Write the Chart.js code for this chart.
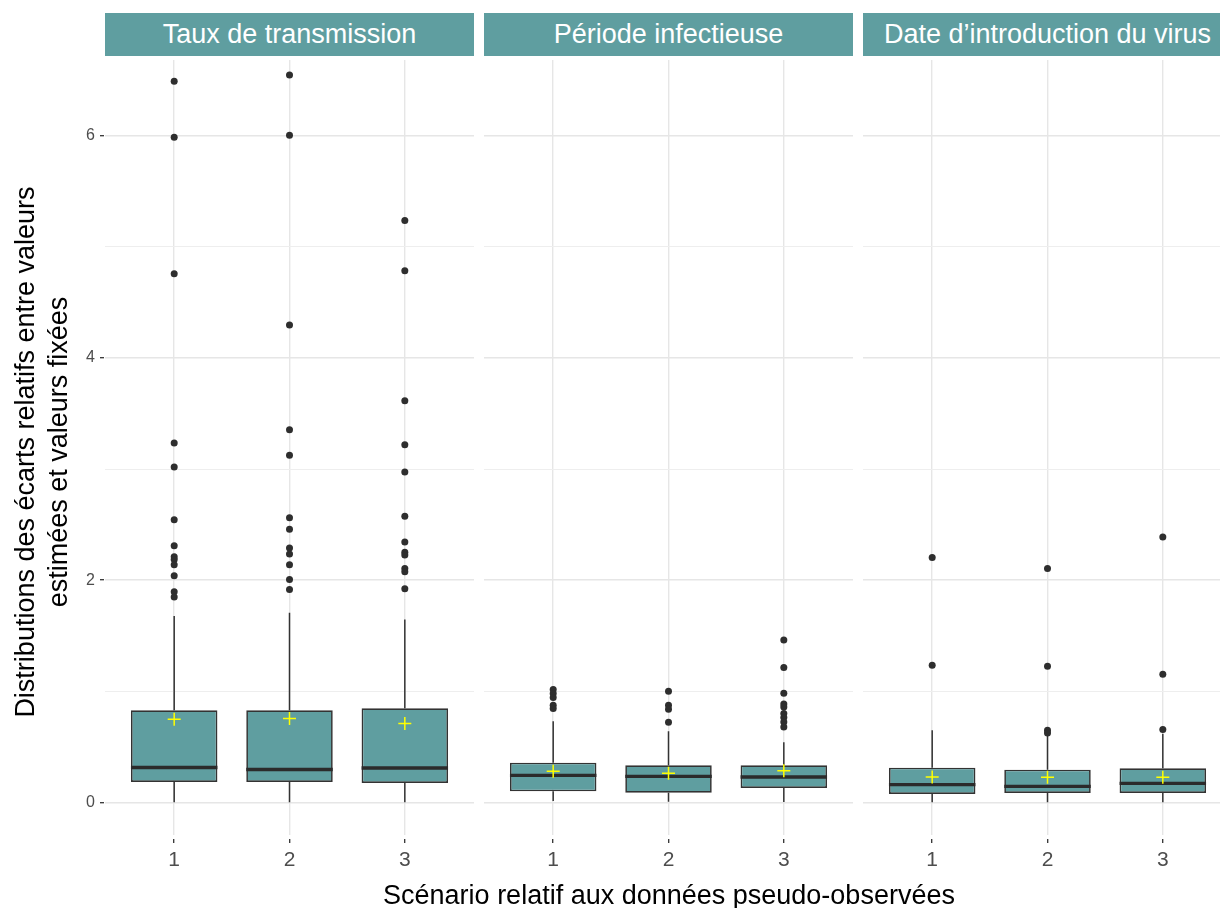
<!DOCTYPE html>
<html><head><meta charset="utf-8">
<script src="https://cdn.jsdelivr.net/npm/chart.js@4/dist/chart.umd.min.js"></script>
<style>
html,body{margin:0;padding:0;background:#fff;width:1220px;height:908px;overflow:hidden;position:relative;font-family:"Liberation Sans",Arial,sans-serif;}
.strip{position:absolute;top:13px;height:43px;background:#5F9EA0;color:#fff;font-size:27px;line-height:43px;text-align:center;white-space:nowrap;overflow:hidden;}
canvas{position:absolute;top:60px;}
#xtitle{position:absolute;left:269px;width:800px;top:880px;font-size:27px;line-height:30px;text-align:center;color:#000;white-space:nowrap;}
#ytitle{position:absolute;left:-308px;top:419px;width:700px;height:66px;font-size:27px;line-height:33px;text-align:center;color:#000;transform:rotate(-90deg);transform-origin:50% 50%;white-space:nowrap;}
</style></head>
<body>
<div class="strip" id="s0" style="left:105px;width:369px;"></div>
<div class="strip" id="s1" style="left:484px;width:369px;"></div>
<div class="strip" id="s2" style="left:863px;width:369px;"></div>
<canvas id="c0" width="424" height="835" style="left:50px;"></canvas>
<canvas id="c1" width="369" height="835" style="left:484px;"></canvas>
<canvas id="c2" width="369" height="835" style="left:863px;"></canvas>
<div id="xtitle">Scénario relatif aux données pseudo-observées</div>
<div id="ytitle">Distributions des écarts relatifs entre valeurs<br>estimées et valeurs fixées</div>
<script>
// ---------- data ----------
const panels = ['Taux de transmission', 'Période infectieuse', 'Date d\u2019introduction du virus'];
const scenarios = ['1', '2', '3'];
const yTickLabels = [0, 2, 4, 6];
const yMinorTicks = [1, 3, 5];

// Taux de transmission
const p1_q1 = [0.183, 0.183, 0.174];
const p1_median = [0.313, 0.295, 0.309];
const p1_q3 = [0.829, 0.829, 0.847];
const p1_low = [0, 0, 0];
const p1_high = [1.678, 1.706, 1.646];
const p1_mean = [0.748, 0.754, 0.709];
const p1_out_s1 = [6.49, 5.985, 4.757, 3.234, 3.018, 2.543, 2.309, 2.21, 2.185, 2.138, 2.039, 1.895, 1.847];
const p1_out_s2 = [6.547, 6.003, 4.297, 3.354, 3.123, 2.561, 2.457, 2.288, 2.234, 2.138, 2.006, 1.916];
const p1_out_s3 = [5.236, 4.784, 3.615, 3.219, 2.973, 2.574, 2.342, 2.25, 2.225, 2.105, 2.075, 1.922];

// Période infectieuse
const p2_q1 = [0.099, 0.087, 0.129];
const p2_median = [0.243, 0.234, 0.228];
const p2_q3 = [0.357, 0.333, 0.333];
const p2_low = [0.012, 0.006, 0.003];
const p2_high = [0.730, 0.640, 0.540];
const p2_mean = [0.279, 0.261, 0.285];
const p2_out_s1 = [1.015, 0.979, 0.943, 0.874, 0.844];
const p2_out_s2 = [1.0, 0.874, 0.838, 0.72];
const p2_out_s3 = [1.462, 1.213, 0.982, 0.886, 0.859, 0.799, 0.763, 0.724, 0.679];

// Date d'introduction du virus
const p3_q1 = [0.075, 0.084, 0.084];
const p3_median = [0.159, 0.144, 0.171];
const p3_q3 = [0.312, 0.294, 0.306];
const p3_low = [0, 0, 0];
const p3_high = [0.649, 0.605, 0.617];
const p3_mean = [0.227, 0.225, 0.225];
const p3_out_s1 = [2.204, 1.234];
const p3_out_s2 = [2.105, 1.225, 0.648, 0.625];
const p3_out_s3 = [2.387, 1.153, 0.655];

// ---------- build ----------
const panelData = [
  {q1:p1_q1, med:p1_median, q3:p1_q3, lo:p1_low, hi:p1_high, mean:p1_mean, out:[p1_out_s1,p1_out_s2,p1_out_s3]},
  {q1:p2_q1, med:p2_median, q3:p2_q3, lo:p2_low, hi:p2_high, mean:p2_mean, out:[p2_out_s1,p2_out_s2,p2_out_s3]},
  {q1:p3_q1, med:p3_median, q3:p3_q3, lo:p3_low, hi:p3_high, mean:p3_mean, out:[p3_out_s1,p3_out_s2,p3_out_s3]}
];

const FONT = '"Liberation Sans", Arial, sans-serif';
const Y_MIN = -0.294, Y_MAX = 6.681;
const HALF_BOX = 0.375;
const FILL = '#5F9EA0', DARK = '#333333';
const yGrid = yTickLabels.concat(yMinorTicks).sort((a,b)=>a-b);

function isMajor(v){ return yTickLabels.includes(v); }

function makeChart(idx){
  const d = panelData[idx];
  const showY = idx === 0;
  const xs = scenarios.map((_, i) => i + 1);
  const boxes = xs.map((x, i) => ({x, y:[d.q1[i], d.q3[i]]}));
  const whiskers = [];
  xs.forEach((x, i) => {
    whiskers.push({x, y:d.lo[i]}, {x, y:d.q1[i]}, {x, y:null},
                  {x, y:d.q3[i]}, {x, y:d.hi[i]}, {x, y:null});
  });
  const medians = [];
  xs.forEach((x, i) => {
    medians.push({x:x-HALF_BOX, y:d.med[i]}, {x:x+HALF_BOX, y:d.med[i]}, {x, y:null});
  });
  const outliers = [];
  xs.forEach((x, i) => d.out[i].forEach(v => outliers.push({x, y:v})));
  const means = xs.map((x, i) => ({x, y:d.mean[i]}));

  new Chart(document.getElementById('c' + idx), {
    type: 'bar',
    data: {
      datasets: [
        {type:'line', data:whiskers, borderColor:DARK, borderWidth:1.5, pointRadius:0, spanGaps:false, order:5},
        {type:'bar', data:boxes, backgroundColor:FILL, borderColor:DARK, borderWidth:1.7, borderSkipped:false,
         barPercentage:0.75, categoryPercentage:1, order:4},
        {type:'line', data:medians, borderColor:'#2b2b2b', borderWidth:3.4, pointRadius:0, spanGaps:false, order:3, borderCapStyle:'butt'},
        {type:'scatter', data:outliers, pointRadius:3.5, backgroundColor:'#2e2e2e', borderWidth:0, order:2},
        {type:'scatter', data:means, pointStyle:'cross', pointRadius:6.5, borderColor:'#FFFF00', borderWidth:1.5, order:1}
      ]
    },
    options: {
      responsive:false, animation:false, events:[],
      layout:{padding:0, autoPadding:false},
      plugins:{legend:{display:false}, tooltip:{enabled:false}},
      scales:{
        x:{
          type:'linear', min:0.4, max:3.6, position:'bottom', offset:false,
          afterBuildTicks: s => { s.ticks = xs.map(v => ({value:v})); },
          afterFit: s => { s.height = 835 - 775; s.paddingLeft = 0; s.paddingRight = 0; },
          ticks:{callback: v => scenarios[v - 1], color:'#4D4D4D', font:{family:FONT, size:21}, padding:5, maxRotation:0, autoSkip:false},
          grid:{offset:false, color:'#E6E6E6', lineWidth:1.4, tickColor:DARK, tickLength:8, tickWidth:1.3, tickBorderDash:[0,4,4,100]},
          border:{display:false}
        },
        y:{
          type:'linear', min:Y_MIN, max:Y_MAX,
          afterBuildTicks: s => { s.ticks = yGrid.map(v => ({value:v})); },
          afterFit: s => { s.width = showY ? 55 : 0; s.paddingTop = 0; s.paddingBottom = 0; },
          ticks:{display:showY, callback: v => isMajor(v) ? String(v) : '', color:'#4D4D4D', font:{family:FONT, size:16}, padding:5},
          grid:{
            color: c => (c.tick && isMajor(c.tick.value)) ? '#E6E6E6' : '#EEEEEE',
            lineWidth: c => (c.tick && isMajor(c.tick.value)) ? 1.4 : 1.0,
            drawTicks:showY, tickLength:5,
            tickColor: c => (c.tick && isMajor(c.tick.value)) ? DARK : 'rgba(0,0,0,0)',
            tickWidth:1.3, tickBorderDash:[4,100]
          },
          border:{display:false}
        }
      }
    }
  });
}

panels.forEach((t, i) => { document.getElementById('s' + i).textContent = t; });
[0,1,2].forEach(makeChart);
</script>
</body></html>
